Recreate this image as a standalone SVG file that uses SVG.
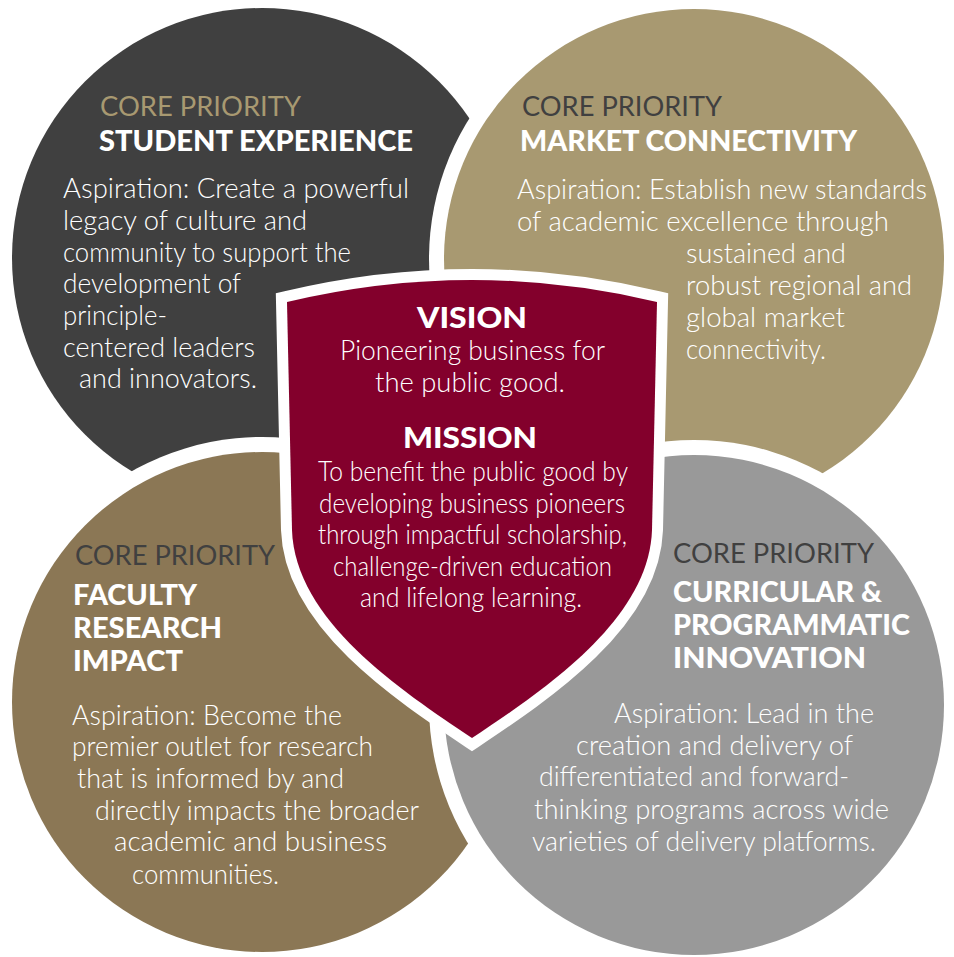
<svg xmlns="http://www.w3.org/2000/svg" width="954" height="957" viewBox="0 0 954 957">
<style>
.bg{fill:#ffffff}
.ring{fill:#ffffff}
.cp{font-family:"Lato","Liberation Sans",sans-serif;font-size:26px;font-weight:400}
.hd{font-family:"Lato","Liberation Sans",sans-serif;font-size:29px;font-weight:900;fill:#ffffff}
.bd{font-family:"Lato","Liberation Sans",sans-serif;font-size:27px;font-weight:300;fill:#ffffff}
.sb{font-family:"Lato","Liberation Sans",sans-serif;font-size:27px;font-weight:300;fill:#ffffff}
</style>
<rect class="bg" x="0" y="0" width="954" height="957"/>
<g id="student-experience">
<circle cx="262" cy="258" r="250" fill="#404040"/>
<text class="cp" fill="#A89971" x="100" y="116" textLength="201" lengthAdjust="spacingAndGlyphs">CORE PRIORITY</text>
<text class="hd" x="99" y="151" textLength="314" lengthAdjust="spacingAndGlyphs">STUDENT EXPERIENCE</text>
<text class="bd" x="63" y="198" textLength="346" lengthAdjust="spacingAndGlyphs">Aspiration: Create a powerful</text>
<text class="bd" x="63" y="230" textLength="244" lengthAdjust="spacingAndGlyphs">legacy of culture and</text>
<text class="bd" x="63" y="262" textLength="288" lengthAdjust="spacingAndGlyphs">community to support the</text>
<text class="bd" x="63" y="293" textLength="178" lengthAdjust="spacingAndGlyphs">development of</text>
<text class="bd" x="63" y="325" textLength="104" lengthAdjust="spacingAndGlyphs">principle-</text>
<text class="bd" x="63" y="357" textLength="192" lengthAdjust="spacingAndGlyphs">centered leaders</text>
<text class="bd" x="79" y="388" textLength="178" lengthAdjust="spacingAndGlyphs">and innovators.</text>
</g>
<g id="market-connectivity">
<circle class="ring" cx="694" cy="259" r="265"/>
<circle cx="694" cy="259" r="250" fill="#A89971"/>
<text class="cp" fill="#404040" x="522" y="116" textLength="200" lengthAdjust="spacingAndGlyphs">CORE PRIORITY</text>
<text class="hd" x="520" y="151" textLength="337" lengthAdjust="spacingAndGlyphs">MARKET CONNECTIVITY</text>
<text class="bd" x="517" y="199" textLength="410" lengthAdjust="spacingAndGlyphs">Aspiration: Establish new standards</text>
<text class="bd" x="517" y="231" textLength="372" lengthAdjust="spacingAndGlyphs">of academic excellence through</text>
<text class="bd" x="686" y="263" textLength="160" lengthAdjust="spacingAndGlyphs">sustained and</text>
<text class="bd" x="686" y="295" textLength="226" lengthAdjust="spacingAndGlyphs">robust regional and</text>
<text class="bd" x="686" y="327" textLength="159" lengthAdjust="spacingAndGlyphs">global market</text>
<text class="bd" x="686" y="359" textLength="140" lengthAdjust="spacingAndGlyphs">connectivity.</text>
</g>
<g id="faculty-research-impact">
<circle class="ring" cx="262" cy="702" r="265"/>
<circle cx="262" cy="702" r="250" fill="#8B7755"/>
<text class="cp" fill="#404040" x="75" y="565" textLength="200" lengthAdjust="spacingAndGlyphs">CORE PRIORITY</text>
<text class="hd" x="73" y="605" textLength="124" lengthAdjust="spacingAndGlyphs">FACULTY</text>
<text class="hd" x="73" y="638" textLength="149" lengthAdjust="spacingAndGlyphs">RESEARCH</text>
<text class="hd" x="73" y="671" textLength="110" lengthAdjust="spacingAndGlyphs">IMPACT</text>
<text class="bd" x="72" y="725" textLength="270" lengthAdjust="spacingAndGlyphs">Aspiration: Become the</text>
<text class="bd" x="72" y="756" textLength="301" lengthAdjust="spacingAndGlyphs">premier outlet for research</text>
<text class="bd" x="77" y="788" textLength="267" lengthAdjust="spacingAndGlyphs">that is informed by and</text>
<text class="bd" x="95" y="820" textLength="324" lengthAdjust="spacingAndGlyphs">directly impacts the broader</text>
<text class="bd" x="114" y="851" textLength="273" lengthAdjust="spacingAndGlyphs">academic and business</text>
<text class="bd" x="132" y="884" textLength="147" lengthAdjust="spacingAndGlyphs">communities.</text>
</g>
<g id="curricular-programmatic-innovation">
<circle class="ring" cx="694" cy="705" r="265"/>
<circle cx="694" cy="705" r="250" fill="#999999"/>
<text class="cp" fill="#404040" x="673" y="563" textLength="201" lengthAdjust="spacingAndGlyphs">CORE PRIORITY</text>
<text class="hd" x="673" y="602" textLength="209" lengthAdjust="spacingAndGlyphs">CURRICULAR &amp;</text>
<text class="hd" x="673" y="635" textLength="237" lengthAdjust="spacingAndGlyphs">PROGRAMMATIC</text>
<text class="hd" x="673" y="668" textLength="193" lengthAdjust="spacingAndGlyphs">INNOVATION</text>
<text class="bd" x="614" y="723" textLength="260" lengthAdjust="spacingAndGlyphs">Aspiration: Lead in the</text>
<text class="bd" x="576" y="755" textLength="277" lengthAdjust="spacingAndGlyphs">creation and delivery of</text>
<text class="bd" x="539" y="786" textLength="310" lengthAdjust="spacingAndGlyphs">differentiated and forward-</text>
<text class="bd" x="534" y="819" textLength="355" lengthAdjust="spacingAndGlyphs">thinking programs across wide</text>
<text class="bd" x="532" y="851" textLength="344" lengthAdjust="spacingAndGlyphs">varieties of delivery platforms.</text>
</g>
<g id="vision-mission">
<path d="M 287,302 Q 472,258 657,302 L 652,530 C 649,620 544,690 472,738 C 400,690 295,620 292,530 Z" fill="#83002C" stroke="#ffffff" stroke-width="22" stroke-linejoin="miter" stroke-miterlimit="10" paint-order="stroke"/>
<text class="hd" x="417" y="328" textLength="110" lengthAdjust="spacingAndGlyphs">VISION</text>
<text class="sb" x="340" y="360" textLength="265" lengthAdjust="spacingAndGlyphs">Pioneering business for</text>
<text class="sb" x="375" y="392" textLength="190" lengthAdjust="spacingAndGlyphs">the public good.</text>
<text class="hd" x="403" y="448" textLength="134" lengthAdjust="spacingAndGlyphs">MISSION</text>
<text class="sb" x="318" y="481" textLength="310" lengthAdjust="spacingAndGlyphs">To benefit the public good by</text>
<text class="sb" x="319" y="513" textLength="306" lengthAdjust="spacingAndGlyphs">developing business pioneers</text>
<text class="sb" x="318" y="544" textLength="309" lengthAdjust="spacingAndGlyphs">through impactful scholarship,</text>
<text class="sb" x="333" y="576" textLength="279" lengthAdjust="spacingAndGlyphs">challenge-driven education</text>
<text class="sb" x="360" y="607" textLength="222" lengthAdjust="spacingAndGlyphs">and lifelong learning.</text>
</g>
<g id="connectors"/>
</svg>
